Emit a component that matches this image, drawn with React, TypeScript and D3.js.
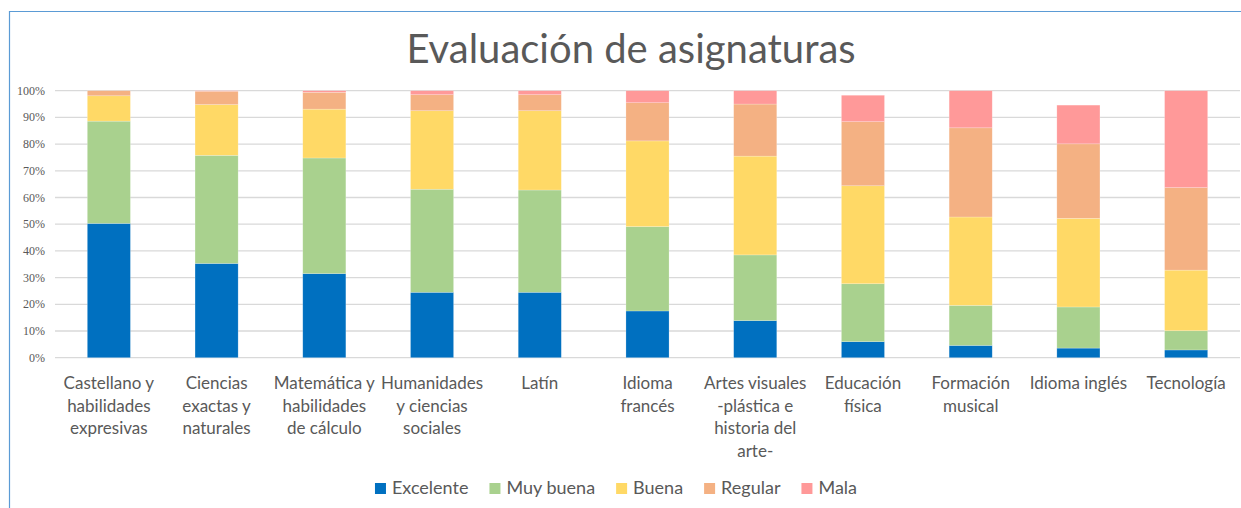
import React, { useEffect, useRef } from "react";
import * as d3 from "d3";

const TITLE = "Evaluación de asignaturas";
const categories = [
  "Castellano y\nhabilidades\nexpresivas",
  "Ciencias\nexactas y\nnaturales",
  "Matemática y\nhabilidades\nde cálculo",
  "Humanidades\ny ciencias\nsociales",
  "Latín",
  "Idioma\nfrancés",
  "Artes visuales\n-plástica e\nhistoria del\narte-",
  "Educación\nfísica",
  "Formación\nmusical",
  "Idioma inglés",
  "Tecnología",
];
const seriesNames = ["Excelente", "Muy buena", "Buena", "Regular", "Mala"];
const excelente = [50.3, 35.3, 31.5, 24.5, 24.5, 17.5, 13.9, 6.0, 4.6, 3.6, 2.9];
const muyBuena = [38.3, 40.5, 43.3, 38.6, 38.3, 31.6, 24.6, 21.7, 15.0, 15.4, 7.2];
const buena = [9.5, 19.0, 18.3, 29.4, 29.7, 32.1, 37.0, 36.7, 33.1, 33.2, 22.7];
const regular = [1.9, 5.0, 6.3, 6.0, 6.0, 14.3, 19.5, 24.0, 33.4, 27.9, 30.9];
const mala = [0, 0.2, 0.6, 1.5, 1.5, 4.5, 5.0, 9.9, 13.9, 14.5, 36.3];
const yTicks = [0, 10, 20, 30, 40, 50, 60, 70, 80, 90, 100];
const colors = ["#0070C0", "#A9D18E", "#FFD966", "#F4B183", "#FF9999"];

const W = 1241;
const H = 508;

export default function App() {
  const ref = useRef<SVGSVGElement | null>(null);

  useEffect(() => {
    const svg = d3.select(ref.current);
    svg.selectAll("*").remove();

    const values = [excelente, muyBuena, buena, regular, mala];
    const rows = categories.map((c, i) => {
      const r: any = { cat: c };
      seriesNames.forEach((s, k) => (r[s] = values[k][i]));
      return r;
    });
    const stack = d3.stack<any>().keys(seriesNames)(rows);

    const x = d3
      .scaleBand<string>()
      .domain(categories)
      .range([55, 1240])
      .paddingInner(0.6)
      .paddingOuter(0.3);
    const y = d3.scaleLinear().domain([0, 100]).range([357.7, 90.7]);

    // frame
    svg
      .append("path")
      .attr("d", `M9.5,${H} L9.5,11.5 L${W},11.5`)
      .attr("fill", "none")
      .attr("stroke", "#5B9BD5")
      .attr("stroke-width", 1.2);

    // title
    svg
      .append("text")
      .attr("x", 631)
      .attr("y", 63)
      .attr("text-anchor", "middle")
      .attr("font-family", "Lato, 'Open Sans', sans-serif")
      .attr("font-size", 40)
      .attr("fill", "#595959")
      .text(TITLE);

    // gridlines
    const g = svg.append("g");
    g.selectAll("line.grid")
      .data(yTicks)
      .join("line")
      .attr("x1", 55)
      .attr("x2", 1240)
      .attr("y1", (d) => y(d))
      .attr("y2", (d) => y(d))
      .attr("stroke", "#D9D9D9")
      .attr("stroke-width", 1.3);

    g.selectAll("text.ytick")
      .data(yTicks)
      .join("text")
      .attr("x", 45)
      .attr("y", (d) => y(d) + 4)
      .attr("text-anchor", "end")
      .attr("font-family", "'Liberation Serif', 'DejaVu Serif', serif")
      .attr("font-size", 12)
      .attr("fill", "#595959")
      .text((d) => `${d}%`);

    // bars
    const layers = svg
      .append("g")
      .selectAll("g")
      .data(stack)
      .join("g")
      .attr("fill", (_d, i) => colors[i]);
    layers
      .selectAll("rect")
      .data((d) => d)
      .join("rect")
      .attr("x", (d: any) => x(d.data.cat)!)
      .attr("width", x.bandwidth())
      .attr("y", (d: any) => y(d[1]))
      .attr("height", (d: any) => Math.max(0, y(d[0]) - y(d[1])))
      .attr("stroke", "#ffffff")
      .attr("stroke-opacity", 0.35)
      .attr("stroke-width", 0.6);

    // x labels
    const xl = svg.append("g");
    categories.forEach((c) => {
      const cx = x(c)! + x.bandwidth() / 2;
      const t = xl
        .append("text")
        .attr("text-anchor", "middle")
        .attr("font-family", "Lato, 'Open Sans', sans-serif")
        .attr("font-size", 17)
        .attr("fill", "#595959");
      c.split("\n").forEach((line, i) => {
        t.append("tspan").attr("x", cx).attr("y", 389 + i * 22.5).text(line);
      });
    });

    // legend
    const leg = svg.append("g");
    const items = seriesNames.map((s, i) => {
      const gi = leg.append("g");
      gi.append("rect")
        .attr("x", 0)
        .attr("y", -11)
        .attr("width", 11)
        .attr("height", 11)
        .attr("fill", colors[i]);
      const t = gi
        .append("text")
        .attr("x", 17)
        .attr("y", 0)
        .attr("font-family", "Lato, 'Open Sans', sans-serif")
        .attr("font-size", 18)
        .attr("fill", "#595959")
        .text(s);
      const w = (t.node() as SVGTextElement).getComputedTextLength();
      return { gi, w: 17 + w };
    });
    const gap = 21;
    const total = d3.sum(items, (d) => d.w) + gap * (items.length - 1);
    let cx = 616 - total / 2;
    items.forEach((it) => {
      it.gi.attr("transform", `translate(${cx},494)`);
      cx += it.w + gap;
    });
  }, []);

  return (
    <svg
      ref={ref}
      width={W}
      height={H}
      style={{ position: "absolute", left: 0, top: 0, background: "#fff" }}
    />
  );
}
